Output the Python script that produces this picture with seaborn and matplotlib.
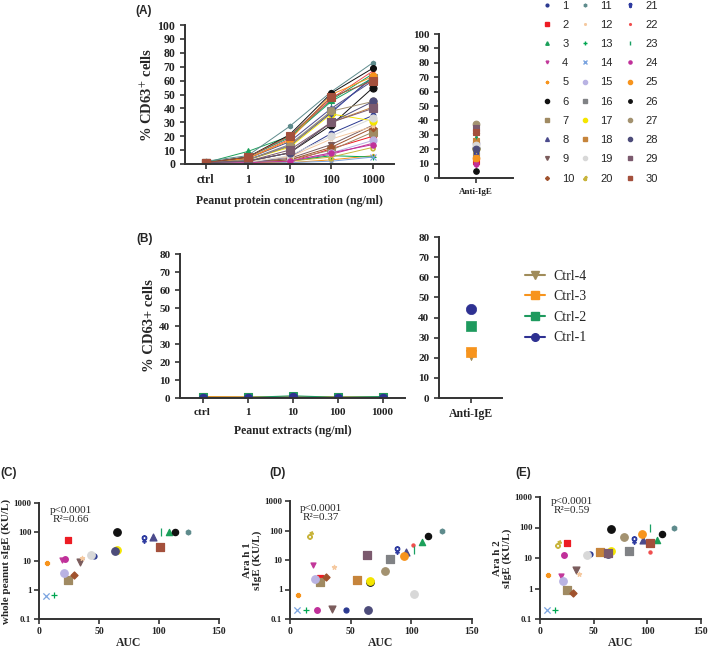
import numpy as np
import matplotlib
matplotlib.use("Agg")
import matplotlib.pyplot as plt
from matplotlib.lines import Line2D
import seaborn as sns

# -----------------------------
# Data
# -----------------------------
conc_labels = ['ctrl', '1', '10', '100', '1000']
patients = [str(i) for i in range(1, 31)]

# % CD63+ cells per patient (1..30) at each peanut protein concentration
cd63_ctrl = [0.5, 0.5, 1, 0.5, 0.5, 1, 1, 1, 1, 1, 2, 1, 1, 0.5, 0.5,
             1, 1, 1, 1, 0.5, 1, 1, 1, 0.5, 1, 1, 1, 1, 1, 1]
cd63_1 = [1, 0.5, 9, 1, 0.5, 2, 1, 4, 1, 1, 6, 2, 1, 0.5, 1,
          3, 3, 2, 1, 0.5, 3, 4, 5, 1, 4, 5, 3, 2, 2, 5]
cd63_10 = [5, 1.5, 20, 2, 1, 8, 3, 16, 4, 3, 27, 5, 2, 1, 2,
           14, 12, 8, 6, 2, 13, 18, 19, 2, 17, 21, 13, 8, 10, 20]
cd63_100 = [22, 11, 46, 7, 3, 28, 10, 40, 14, 12, 52, 18, 6, 2, 8,
            38, 36, 30, 20, 5, 37, 47, 45, 8, 50, 51, 38, 30, 30, 48]
cd63_1000 = [35, 20, 65, 15, 6, 55, 23, 60, 28, 26, 73, 27, 5, 5, 17,
             62, 31, 41, 33, 12, 63, 67, 62, 14, 63, 69, 45, 45, 40, 60]
anti_ige_a = [18, 12, 28, 9, 15, 21, 16, 21, 19, 31, 24, 17, 27, 25, 24,
              22, 20, 26, 23, 13, 17, 11, 29, 10, 14, 5, 37.5, 20, 35, 32]

# healthy controls (B)
ctrl_names = ['Ctrl-4', 'Ctrl-3', 'Ctrl-2', 'Ctrl-1']
ctrl_extract = [[0.5, 0.5, 0.6, 0.5, 0.7],
                [0.8, 0.6, 0.5, 0.6, 0.3],
                [0.3, 0.3, 1.2, 0.4, 0.8],
                [0.2, 0.2, 0.3, 0.2, 0.2]]
ctrl_anti_ige = [21.5, 23, 36, 44]

nan = np.nan
# AUC vs sIgE (C, D, E), patients 1..30
c_auc = [46, 24, 108, 19, 7, 65, 24, 95, 34, 29.5, 124, 35.6, 12.5, 5.6, 21,
         nan, 65, nan, 43.7, nan, 87.4, nan, 102, 22, nan, 113, nan, 63, nan, 101]
c_sige = [15, 53, 100, 11, 8.6, 100, 2.3, 65, 9.6, 3.3, 100, 12.5, 0.65, 0.6, 3.9,
          nan, 23.5, nan, 16.6, nan, 58, nan, 100, 12, nan, 100, nan, 22.3, nan, 31.5]
d_auc = [46, 24.5, 109, 19, 7, 66, 24.5, 96, 34.6, 30, 125, 36, 13, 6, 20.6,
         82.7, 65.6, 55.5, 102, 16.2, 88.5, 101, 102, 22, 93.7, 114, 78, 64, 63.5, nan]
d_arah1 = [0.2, 2.5, 42, 6.8, 0.65, 1.85, 1.75, 18.7, 0.22, 2.7, 100, 5.9, 0.2, 0.2, 2.3,
           11, 2.0, 2.1, 0.72, 70, 22, 32, 22, 0.2, 14, 65, 4.4, 0.2, 14.8, nan]
e_auc = [46.3, 24.7, 108.7, 19.5, 7.7, 66.4, 25.1, 96.3, 34, 30.5, 125.1, 36, 14, 6.8, 21.6,
         82.9, 65.9, 55.6, 44.2, 16.5, 88, 102.5, 102.5, 22.6, 94.7, 114, 78.7, 63.8, 63.8, 102.5]
e_arah2 = [13.7, 30, 38, 2.5, 2.7, 90, 0.9, 38, 3.9, 0.7, 100, 3.0, 0.2, 0.2, 1.8,
           17, 17, 15.5, 12.7, 28, 38, 16, 100, 13, 62, 61, 50, 13.7, 15, 31]

# -----------------------------
# Styles
# -----------------------------
colors = ['#2b3990', '#ed1c24', '#1ba05a', '#c2389a', '#f7941d', '#111111',
          '#a08a62', '#4b4a8c', '#7b5c5c', '#a0522d', '#5e8b8c', '#f5c9a0',
          '#00a651', '#7ba4e0', '#b9b3e3', '#808285', '#f5e600', '#c6843b',
          '#d8d8d8', '#c8b43c', '#2e3ba0', '#f04e4e', '#1aa064', '#c0309a',
          '#f7941d', '#111111', '#a39270', '#4d4c7a', '#7b5a6e', '#a4503c']
markers = ['o', 's', '^', 'v', 'P', 'o', 's', '^', 'v', 'D', 'h', '*', '+', 'x', 'o',
           's', 'o', 's', 'o', '$♂$', '$♀$', 'o', '|', 'o', 'o', 'o', 'o', 'o', 's', 's']
msizes = [4, 5, 5, 4, 3.5, 6, 6, 5.5, 5.5, 4, 4, 3.5, 5, 5, 6,
          6, 6, 6, 6, 6, 6, 2.5, 6, 4.5, 6, 5, 6, 6, 6, 6]
ctrl_colors = ['#a08c5a', '#f7941d', '#1e9a5e', '#2e3192']
ctrl_markers = ['v', 's', 's', 'o']

sns.set_style('ticks')
plt.rcParams['font.family'] = ['Liberation Serif', 'DejaVu Serif']
plt.rcParams['mathtext.fontset'] = 'stix'
plt.rcParams['axes.linewidth'] = 1.4
plt.rcParams['axes.edgecolor'] = '#333333'
plt.rcParams['xtick.color'] = '#333333'
plt.rcParams['ytick.color'] = '#333333'
plt.rcParams['xtick.major.width'] = 1.2
plt.rcParams['ytick.major.width'] = 1.2
plt.rcParams['xtick.major.size'] = 3.5
plt.rcParams['ytick.major.size'] = 3.5

W, H = 709, 650
fig = plt.figure(figsize=(W / 100, H / 100), dpi=100)


def px_axes(x0, y0, x1, y1):
    return fig.add_axes([x0 / W, 1 - y1 / H, (x1 - x0) / W, (y1 - y0) / H])


def style_ax(ax, fs):
    sns.despine(ax=ax)
    for lab in ax.get_xticklabels() + ax.get_yticklabels():
        lab.set_fontweight('bold')
        lab.set_fontsize(fs)
        lab.set_color('#222222')


sans = ['Liberation Sans', 'DejaVu Sans']
pos = np.arange(len(conc_labels))
cd63_cols = [cd63_ctrl, cd63_1, cd63_10, cd63_100, cd63_1000]

# -----------------------------
# (A) dose response, patients
# -----------------------------
axA = px_axes(185, 25, 394, 164)
for i in range(len(patients)):
    vals = [col[i] for col in cd63_cols]
    sns.lineplot(x=pos, y=vals, ax=axA, color=colors[i], linewidth=0.7,
                 marker=markers[i], markersize=msizes[i] * 0.85,
                 markeredgecolor=colors[i], markeredgewidth=0.8)
axA.set_xlim(-0.5, 4.5)
axA.set_ylim(0, 100)
axA.set_yticks(range(0, 101, 10))
axA.set_xticks(pos)
axA.set_xticklabels(conc_labels)
style_ax(axA, 8.5)
axA.set_xlabel('Peanut protein concentration (ng/ml)', fontsize=8.5,
               fontweight='bold', labelpad=7)
axA.set_ylabel('% CD63$^{+}$ cells', fontsize=10.5, fontweight='bold', labelpad=2)

axA2 = px_axes(439, 34, 513, 178)
for i in range(len(patients)):
    sns.scatterplot(x=[0], y=[anti_ige_a[i]], ax=axA2, color=colors[i],
                    marker=markers[i], s=(msizes[i] * 0.8) ** 2,
                    edgecolor=colors[i], linewidth=0.8)
axA2.set_xlim(-1, 1)
axA2.set_ylim(0, 100)
axA2.set_yticks(range(0, 101, 10))
axA2.set_xticks([0])
axA2.set_xticklabels(['Anti-IgE'])
style_ax(axA2, 8)
axA2.tick_params(axis='x', labelsize=6.5)

# patient key: three columns of ten
for k, mx in enumerate([541, 579, 624]):
    idx = range(k * 10, k * 10 + 10)
    hs = [Line2D([], [], linestyle='none', marker=markers[i], color=colors[i],
                 markeredgecolor=colors[i], markersize=msizes[i] * 0.5) for i in idx]
    leg = fig.legend(hs, [patients[i] for i in idx], frameon=False,
                     loc='upper left', bbox_to_anchor=((mx - 5.5) / W, 1 + 5 / H),
                     prop={'family': sans, 'size': 8}, labelspacing=0.83,
                     borderpad=0, handlelength=1.0, handletextpad=0.9)

# -----------------------------
# (B) dose response, controls
# -----------------------------
axB = px_axes(180, 254, 405, 398)
for j in range(len(ctrl_names)):
    sns.lineplot(x=pos, y=ctrl_extract[j], ax=axB, color=ctrl_colors[j],
                 linewidth=0.8, marker=ctrl_markers[j], markersize=6,
                 markeredgecolor=ctrl_colors[j])
axB.set_xlim(-0.5, 4.5)
axB.set_ylim(0, 80)
axB.set_yticks(range(0, 81, 10))
axB.set_xticks(pos)
axB.set_xticklabels(conc_labels)
style_ax(axB, 8)
axB.set_xlabel('Peanut extracts (ng/ml)', fontsize=8.5, fontweight='bold', labelpad=6)
axB.set_ylabel('% CD63+ cells', fontsize=10.5, fontweight='bold', labelpad=2)

axB2 = px_axes(439, 237, 502, 398)
for j in range(len(ctrl_names)):
    sns.scatterplot(x=[0], y=[ctrl_anti_ige[j]], ax=axB2, color=ctrl_colors[j],
                    marker=ctrl_markers[j], s=55, edgecolor=ctrl_colors[j], linewidth=0.5)
axB2.set_xlim(-1, 1)
axB2.set_ylim(0, 80)
axB2.set_yticks(range(0, 81, 10))
axB2.set_xticks([0])
axB2.set_xticklabels(['Anti-IgE'])
style_ax(axB2, 8)
axB2.tick_params(axis='x', labelsize=8.5)

ctrl_handles = [Line2D([], [], color=ctrl_colors[j], marker=ctrl_markers[j],
                       markersize=5.5, linewidth=1.5) for j in range(len(ctrl_names))]
fig.legend(ctrl_handles, ctrl_names, frameon=False, loc='upper left',
           bbox_to_anchor=(512 / W, 1 - 257 / H), prop={'size': 10},
           labelspacing=0.55, handlelength=1.45, handletextpad=0.6)

# -----------------------------
# (C)-(E) AUC vs sIgE
# -----------------------------
panels = [
    ((39, 503, 219, 619), c_auc, c_sige, 'whole peanut sIgE (KU/L)', 'p<0.0001\nR²=0.66', 0.175, 0.897),
    ((290, 501, 472, 619), d_auc, d_arah1, 'Ara h 1\nsIgE (KU/L)', 'p<0.0001\nR²=0.37', 0.17, 0.898),
    ((540, 497, 701, 619), e_auc, e_arah2, 'Ara h 2\nsIgE (KU/L)', 'p<0.0001\nR²=0.59', 0.2, 0.926),
]
for box, auc, sige, ylab, stat, tx, ty in panels:
    ax = px_axes(*box)
    for i in range(len(patients)):
        if np.isnan(auc[i]) or np.isnan(sige[i]):
            continue
        sns.scatterplot(x=[auc[i]], y=[sige[i]], ax=ax, color=colors[i],
                        marker=markers[i], s=(msizes[i] * 0.9) ** 2,
                        edgecolor=colors[i], linewidth=0.9, clip_on=False)
    ax.set_yscale('log')
    ax.set_xlim(0, 150)
    ax.set_ylim(0.1, 1000)
    ax.set_xticks([0, 50, 100, 150])
    ax.set_yticks([0.1, 1, 10, 100, 1000])
    ax.set_yticklabels(['0.1', '1', '10', '100', '1000'])
    ax.minorticks_off()
    style_ax(ax, 7)
    ax.tick_params(axis='y', labelsize=6.5, pad=2)
    ax.tick_params(axis='x', pad=2)
    ax.set_xlabel('AUC', fontsize=8.5, fontweight='bold', va='center')
    ax.xaxis.set_label_coords(0.5, (box[3] - 643) / (box[3] - box[1]))
    ax.set_ylabel(ylab, fontsize=8, fontweight='bold', labelpad=2, linespacing=1.0)
    ax.text(tx, ty, stat, transform=ax.transAxes, ha='center', va='center',
            fontsize=8, linespacing=1.1)

# panel letters
for lab, x, y in [('(A)', 135, 11), ('(B)', 136, 239), ('(C)', 0, 473),
                  ('(D)', 269, 473), ('(E)', 515, 473)]:
    fig.text(x / W, 1 - y / H, lab, family=sans, fontsize=8.5,
             fontweight='bold', va='center', ha='left')

fig.savefig('out.png', dpi=100)
